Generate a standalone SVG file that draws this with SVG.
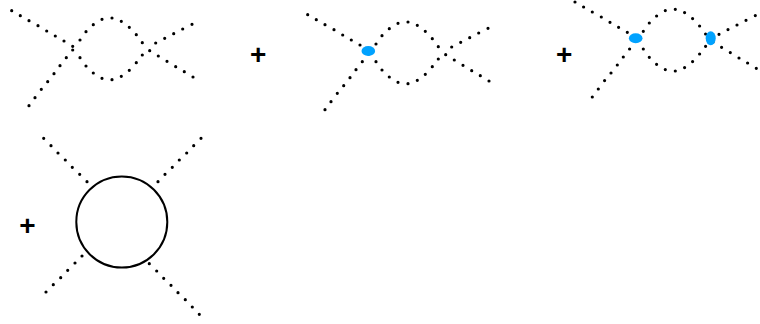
<svg xmlns="http://www.w3.org/2000/svg" xmlns:xlink="http://www.w3.org/1999/xlink" width="760" height="324" viewBox="0 0 760 324">
<style>
.dots{fill:none;stroke:#000;stroke-width:3.2;stroke-linecap:round}
.vertex{fill:#00a2ff}
.plus{font:bold 28px "Liberation Sans",Arial,sans-serif;fill:#000;text-anchor:middle}
.loop{fill:none;stroke:#000;stroke-width:2}
</style>
<defs>
<path id="fish" class="dots" d="M11.7 10.7h0M20.3 15.7h0M29 20.7h0M38 25.7h0M46.7 31h0M55.3 36h0M64 41h0M72.7 46.3h0M29 105.7h0M35 97.7h0M41.3 89.3h0M47.7 81.7h0M54 73.7h0M60 65.7h0M66.3 57.7h0M72.7 50h0M80 40h0M86 31.7h0M93.3 24.7h0M102 19.3h0M112 18h0M121.3 21.3h0M129.3 27.3h0M136.3 34.7h0M142.3 42.7h0M80 57.7h0M86 66h0M93.3 73h0M102 78.3h0M112 79.7h0M121.3 76.3h0M129.3 70.3h0M136.3 62.7h0M142.3 55h0M149.7 50.7h0M155.7 43h0M164.7 38.3h0M173.7 33.7h0M182.7 29h0M192 24.3h0M158.3 56h0M167 61.3h0M175.7 66.7h0M184.3 71.7h0M193 77h0"/>
</defs>
<g id="connectors">
<use id="diagram-1-lines" xlink:href="#fish" href="#fish"/>
<use id="diagram-2-lines" xlink:href="#fish" href="#fish" x="296" y="4"/>
<use id="diagram-3-lines" xlink:href="#fish" href="#fish" x="563.3" y="-8.7"/>
<path id="leg-tl" class="dots" d="M43.7 138.3h0M51 145.7h0M58 153h0M65.3 160h0M72.3 167.3h0M79.7 174.3h0M87 181.7h0"/>
<path id="leg-tr" class="dots" d="M201 138.3h0M193.7 145.7h0M186.7 153h0M179.3 160h0M172.3 167.3h0M165 174.3h0M158 181.7h0"/>
<path id="leg-bl" class="dots" d="M82 256h0M75 263h0M67.7 270.3h0M60.7 277.7h0M53.3 284.7h0M46 292h0"/>
<path id="leg-br" class="dots" d="M149.3 263.7h0M156.7 271h0M163.7 278.3h0M171 285.3h0M178 292.7h0M185.3 299.7h0M192.3 307h0M199.3 314.3h0"/>
</g>
<g id="vertex-a"><ellipse class="vertex" cx="368.3" cy="51" rx="6.8" ry="5"/></g>
<g id="vertex-b"><ellipse class="vertex" cx="635.7" cy="38.3" rx="6.8" ry="5"/></g>
<g id="vertex-c"><ellipse class="vertex" cx="710.7" cy="38.3" rx="5" ry="7"/></g>
<g id="loop"><circle class="loop" cx="121.8" cy="222" r="45.5"/></g>
<g id="plus-1"><text class="plus" x="258.3" y="63.5">+</text></g>
<g id="plus-2"><text class="plus" x="564.3" y="63.5">+</text></g>
<g id="plus-3"><text class="plus" x="27.5" y="234.5">+</text></g>
</svg>
